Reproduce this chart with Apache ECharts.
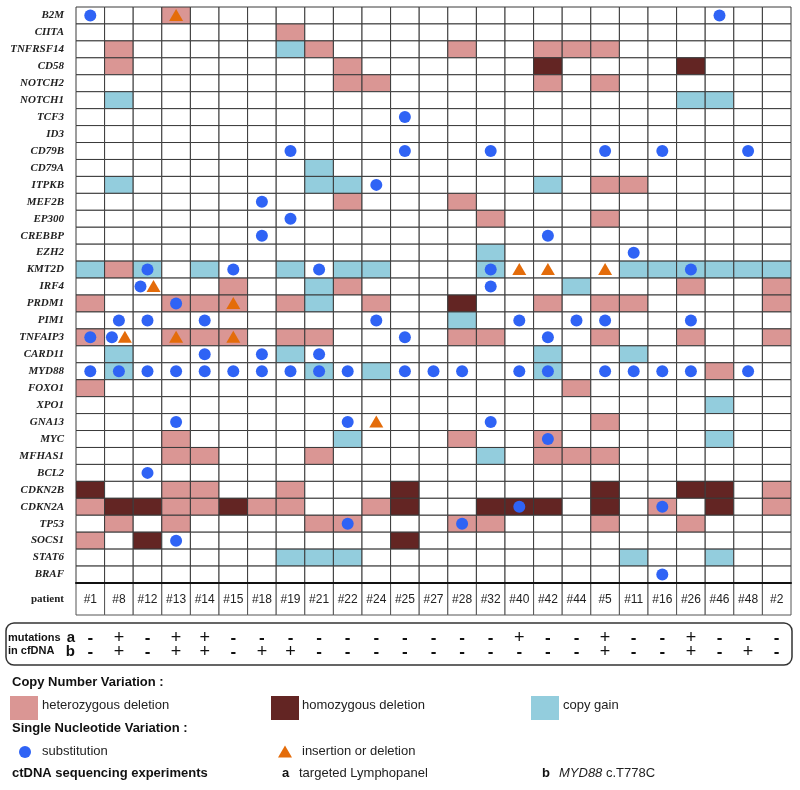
<!DOCTYPE html>
<html><head><meta charset="utf-8">
<script src="https://cdn.jsdelivr.net/npm/echarts@6/dist/echarts.min.js"></script>
<style>html,body{margin:0;padding:0;background:#fff}#c{width:800px;height:790px}</style>
</head><body><div id="c"></div>
<script>
// ---------- DATA ----------
const genes = ['B2M','CIITA','TNFRSF14','CD58','NOTCH2','NOTCH1','TCF3','ID3','CD79B','CD79A','ITPKB','MEF2B','EP300','CREBBP','EZH2','KMT2D','IRF4','PRDM1','PIM1','TNFAIP3','CARD11','MYD88','FOXO1','XPO1','GNA13','MYC','MFHAS1','BCL2','CDKN2B','CDKN2A','TP53','SOCS1','STAT6','BRAF'];
const patients = ['#1','#8','#12','#13','#14','#15','#18','#19','#21','#22','#24','#25','#27','#28','#32','#40','#42','#44','#5','#11','#16','#26','#46','#48','#2'];

// Copy number variation: [gene, patients]
const hetDel = [
  ['B2M',['#13']],
  ['CIITA',['#19']],
  ['TNFRSF14',['#8','#21','#28','#42','#44','#5']],
  ['CD58',['#8','#22']],
  ['NOTCH2',['#22','#24','#42','#5']],
  ['ITPKB',['#5','#11']],
  ['MEF2B',['#22','#28']],
  ['EP300',['#32','#5']],
  ['KMT2D',['#8']],
  ['IRF4',['#15','#22','#26','#2']],
  ['PRDM1',['#1','#13','#14','#15','#19','#24','#42','#5','#11','#2']],
  ['TNFAIP3',['#1','#13','#14','#15','#19','#21','#28','#32','#5','#26','#2']],
  ['MYD88',['#46']],
  ['FOXO1',['#1','#44']],
  ['GNA13',['#5']],
  ['MYC',['#13','#28','#42']],
  ['MFHAS1',['#13','#14','#21','#42','#44','#5']],
  ['CDKN2B',['#13','#14','#19','#2']],
  ['CDKN2A',['#1','#13','#14','#18','#19','#24','#16','#2']],
  ['TP53',['#8','#13','#21','#22','#28','#32','#5','#26']],
  ['SOCS1',['#1']]
];
const homDel = [
  ['CD58',['#42','#26']],
  ['PRDM1',['#28']],
  ['CDKN2B',['#1','#25','#5','#26','#46']],
  ['CDKN2A',['#8','#12','#15','#25','#32','#40','#42','#5','#46']],
  ['SOCS1',['#12','#25']]
];
const copyGain = [
  ['TNFRSF14',['#19']],
  ['NOTCH1',['#8','#26','#46']],
  ['CD79A',['#21']],
  ['ITPKB',['#8','#21','#22','#42']],
  ['EZH2',['#32']],
  ['KMT2D',['#1','#12','#14','#19','#22','#24','#32','#11','#16','#26','#46','#48','#2']],
  ['IRF4',['#21','#44']],
  ['PRDM1',['#21']],
  ['PIM1',['#28']],
  ['CARD11',['#8','#19','#42','#11']],
  ['MYD88',['#8','#21','#24','#42']],
  ['XPO1',['#46']],
  ['MYC',['#22','#46']],
  ['MFHAS1',['#32']],
  ['STAT6',['#19','#21','#22','#11','#46']]
];
// Single nucleotide variation
const substitution = [
  ['B2M',['#1','#46']],
  ['TCF3',['#25']],
  ['CD79B',['#19','#25','#32','#5','#16','#48']],
  ['ITPKB',['#24']],
  ['MEF2B',['#18']],
  ['EP300',['#19']],
  ['CREBBP',['#18','#42']],
  ['EZH2',['#11']],
  ['KMT2D',['#12','#15','#21','#32','#26']],
  ['IRF4',['#12','#32']],
  ['PRDM1',['#13']],
  ['PIM1',['#8','#12','#14','#24','#40','#44','#5','#26']],
  ['TNFAIP3',['#1','#8','#25','#42']],
  ['CARD11',['#14','#18','#21']],
  ['MYD88',['#1','#8','#12','#13','#14','#15','#18','#19','#21','#22','#25','#27','#28','#40','#42','#5','#11','#16','#26','#48']],
  ['GNA13',['#13','#22','#32']],
  ['MYC',['#42']],
  ['BCL2',['#12']],
  ['CDKN2A',['#40','#16']],
  ['TP53',['#22','#28']],
  ['SOCS1',['#13']],
  ['BRAF',['#16']]
];
const indel = [
  ['B2M',['#13']],
  ['KMT2D',['#40','#42','#5']],
  ['IRF4',['#12']],
  ['PRDM1',['#15']],
  ['TNFAIP3',['#8','#13','#15']],
  ['GNA13',['#24']]
];
// mutations in cfDNA
const mutRows = ['a','b'];
const mutA = ['-','+','-','+','+','-','-','-','-','-','-','-','-','-','-','+','-','-','+','-','-','+','-','-','-'];
const mutB = ['-','+','-','+','+','-','+','+','-','-','-','-','-','-','-','-','-','-','+','-','-','+','-','+','-'];

// ---------- STYLE ----------
const C_HET = '#DA9694', C_HOM = '#632523', C_GAIN = '#93CDDD', C_SUB = '#2F63F5', C_IND = '#E46C0A';
const LINE = '#3a3a3a';
const SANS = 'Liberation Sans', SERIF = 'Liberation Serif';

// build cell matrix
const cnv = {};
function fill(list, t){ list.forEach(([g, ps]) => ps.forEach(p => { cnv[g+'|'+p] = t; })); }
fill(hetDel,1); fill(homDel,2); fill(copyGain,3);
const cellData = [];
genes.forEach((g,i) => patients.forEach((p,j) => cellData.push([j, i, cnv[g+'|'+p] || 0])));

const subSet = new Set(), indSet = new Set();
substitution.forEach(([g, ps]) => ps.forEach(p => subSet.add(g+'|'+p)));
indel.forEach(([g, ps]) => ps.forEach(p => indSet.add(g+'|'+p)));
const snvData = [];
genes.forEach((g,i) => patients.forEach((p,j) => {
  const k = g+'|'+p, both = subSet.has(k) && indSet.has(k);
  if (subSet.has(k)) snvData.push([j, i, 0, both ? -7 : 0]);
  if (indSet.has(k)) snvData.push([j, i, 1, both ? 6 : 0]);
}));

const cellColors = ['#ffffff', C_HET, C_HOM, C_GAIN];

const chart = echarts.init(document.getElementById('c'), null, {renderer:'canvas'});
const option = {
  animation: false,
  backgroundColor: '#fff',
  grid: [
    {left: 76, top: 7, width: 715, height: 576},
    {left: 76, top: 583, width: 715, height: 32},
    {left: 76, top: 631, width: 715, height: 28}
  ],
  xAxis: [
    {type:'category', data: patients, gridIndex:0, position:'bottom', z: 10,
     axisLine:{show:true, lineStyle:{color:'#111', width:2}}, axisTick:{show:false}, axisLabel:{show:false}, splitLine:{show:false}},
    {type:'category', data: patients, gridIndex:1, axisLine:{show:false}, axisTick:{show:false}, axisLabel:{show:false}},
    {type:'category', data: patients, gridIndex:2, axisLine:{show:false}, axisTick:{show:false}, axisLabel:{show:false}}
  ],
  yAxis: [
    {type:'category', data: genes, inverse: true, gridIndex:0, axisLine:{show:false}, axisTick:{show:false},
     axisLabel:{interval:0, margin: 12, fontFamily: SERIF, fontStyle:'italic', fontWeight:'bold', fontSize: 11, color:'#222'}},
    {type:'category', data: ['patient'], gridIndex:1, axisLine:{show:false}, axisTick:{show:false},
     axisLabel:{interval:0, margin: 12, fontFamily: SERIF, fontWeight:'bold', fontSize: 11, color:'#222'}},
    {type:'category', data: mutRows, inverse: true, gridIndex:2, axisLine:{show:false}, axisTick:{show:false},
     axisLabel:{interval:0, hideOverlap:false, margin: 1, fontFamily: SANS, fontWeight:'bold', fontSize: 15, color:'#111'}}
  ],
  series: [
    {
      type:'custom', xAxisIndex:0, yAxisIndex:0, data: cellData,
      renderItem(params, api){
        const p = api.coord([api.value(0), api.value(1)]);
        const s = api.size([1,1]);
        return {type:'rect', shape:{x:p[0]-s[0]/2, y:p[1]-s[1]/2, width:s[0], height:s[1]},
          style:{fill: cellColors[api.value(2)], stroke: LINE, lineWidth: 1}};
      }
    },
    {
      type:'custom', xAxisIndex:0, yAxisIndex:0, data: snvData, z: 5,
      renderItem(params, api){
        const p = api.coord([api.value(0), api.value(1)]);
        const cx = p[0] + api.value(3), cy = p[1];
        if (api.value(2) === 0) {
          return {type:'circle', shape:{cx, cy, r: 6}, style:{fill: C_SUB}};
        }
        return {type:'polygon', shape:{points:[[cx, cy-6.5],[cx+7, cy+5.5],[cx-7, cy+5.5]]}, style:{fill: C_IND}};
      }
    },
    {
      type:'custom', xAxisIndex:1, yAxisIndex:1, data: patients.map((p,j) => [j, 0]),
      renderItem(params, api){
        const p = api.coord([api.value(0), 0]);
        const s = api.size([1,1]);
        return {type:'group', children:[
          {type:'rect', shape:{x:p[0]-s[0]/2, y:p[1]-s[1]/2, width:s[0], height:s[1]}, style:{fill:'#fff', stroke:'#555', lineWidth:1}},
          {type:'text', style:{x:p[0], y:p[1]+1, text: patients[api.value(0)], textAlign:'center', textVerticalAlign:'middle',
            font: '12px "Liberation Sans"', fill:'#222'}}
        ]};
      }
    },
    {
      type:'custom', xAxisIndex:2, yAxisIndex:2,
      data: mutA.map((m,j) => [j, 0]).concat(mutB.map((m,j) => [j, 1])),
      renderItem(params, api){
        const j = api.value(0), r = api.value(1);
        const p = api.coord([j, r]);
        const txt = r === 0 ? mutA[j] : mutB[j];
        return {type:'text', style:{x:p[0], y:p[1], text: txt, textAlign:'center', textVerticalAlign:'middle',
          font: (txt === '+' ? '18px' : 'bold 17px') + ' "Liberation Sans"', fill:'#111'}};
      }
    }
  ],
  graphic: [
    {type:'rect', shape:{x:6, y:623, width:786, height:42, r:8}, style:{fill:'none', stroke:'#333', lineWidth:1.5}},
    {type:'text', left: 8, top: 632, style:{text:'mutations', font:'bold 11px "Liberation Sans"', fill:'#111'}},
    {type:'text', left: 8, top: 645, style:{text:'in cfDNA', font:'bold 11px "Liberation Sans"', fill:'#111'}},

    {type:'text', left: 12, top: 676, style:{text:'Copy Number Variation :', font:'bold 13px "Liberation Sans"', fill:'#111'}},
    {type:'rect', shape:{x:10, y:696, width:28, height:24}, style:{fill:C_HET}},
    {type:'text', left: 42, top: 699, style:{text:'heterozygous deletion', font:'13px "Liberation Sans"', fill:'#222'}},
    {type:'rect', shape:{x:271, y:696, width:28, height:24}, style:{fill:C_HOM}},
    {type:'text', left: 302, top: 699, style:{text:'homozygous deletion', font:'13px "Liberation Sans"', fill:'#222'}},
    {type:'rect', shape:{x:531, y:696, width:28, height:24}, style:{fill:C_GAIN}},
    {type:'text', left: 563, top: 699, style:{text:'copy gain', font:'13px "Liberation Sans"', fill:'#222'}},

    {type:'text', left: 12, top: 722, style:{text:'Single Nucleotide Variation :', font:'bold 13px "Liberation Sans"', fill:'#111'}},
    {type:'circle', shape:{cx:25, cy:752, r:6}, style:{fill:C_SUB}},
    {type:'text', left: 42, top: 745, style:{text:'substitution', font:'13px "Liberation Sans"', fill:'#222'}},
    {type:'polygon', shape:{points:[[285,745.5],[292,757.5],[278,757.5]]}, style:{fill:C_IND}},
    {type:'text', left: 302, top: 745, style:{text:'insertion or deletion', font:'13px "Liberation Sans"', fill:'#222'}},

    {type:'text', left: 12, top: 767, style:{text:'ctDNA sequencing experiments', font:'bold 13px "Liberation Sans"', fill:'#111'}},
    {type:'text', left: 282, top: 767, style:{text:'a', font:'bold 13px "Liberation Sans"', fill:'#111'}},
    {type:'text', left: 299, top: 767, style:{text:'targeted Lymphopanel', font:'13px "Liberation Sans"', fill:'#222'}},
    {type:'text', left: 542, top: 767, style:{text:'b', font:'bold 13px "Liberation Sans"', fill:'#111'}},
    {type:'text', left: 559, top: 767, style:{text:'{i|MYD88} c.T778C', font:'13px "Liberation Sans"', fill:'#222',
      rich:{i:{fontStyle:'italic', fontFamily:SANS, fontSize:13, fill:'#222'}}}}
  ]
};
chart.setOption(option);
</script>
</body></html>
